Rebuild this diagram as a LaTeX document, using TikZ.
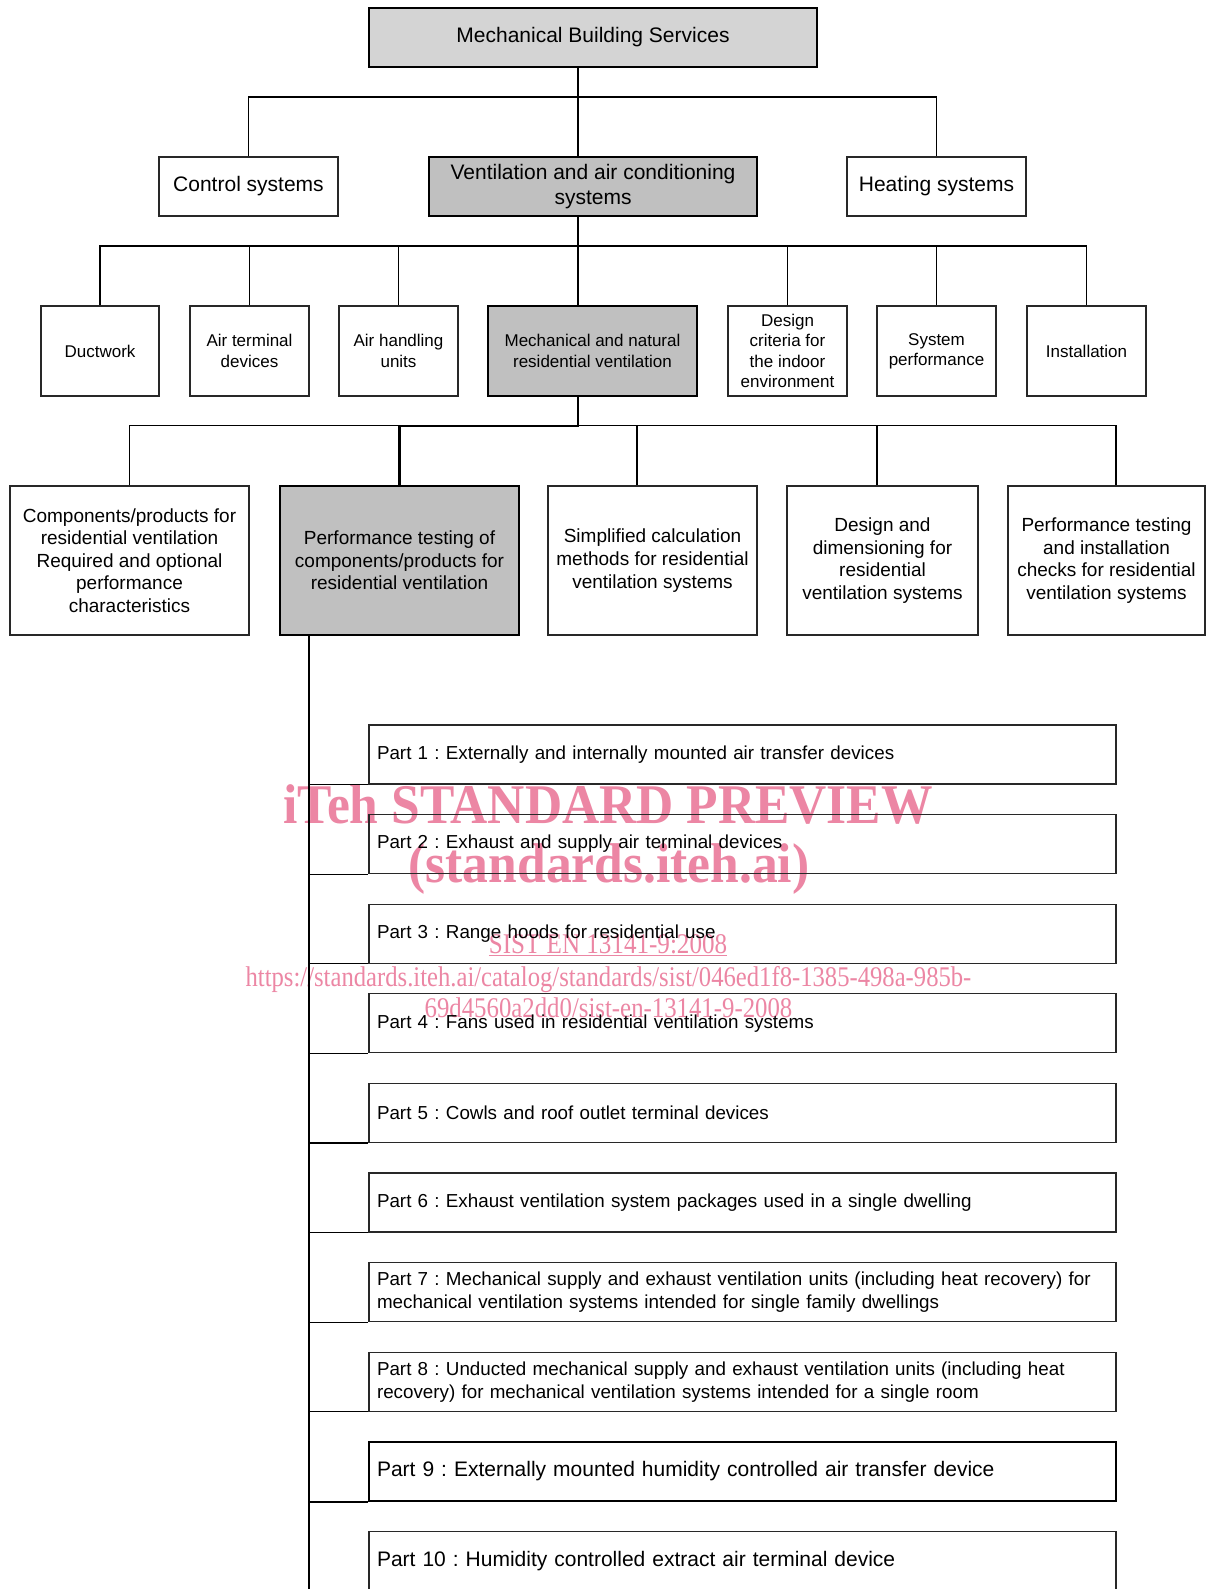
\documentclass[tikz,border=0pt]{standalone}
\usepackage{fontspec}
\setmainfont{Liberation Sans}
\newfontfamily\wmfont{Liberation Serif}
\usepackage{graphicx}
\definecolor{topgray}{RGB}{212,212,212}
\definecolor{midgray}{RGB}{192,192,192}
\definecolor{wmpink}{RGB}{236,134,164}
\definecolor{edge}{RGB}{40,40,40}
\frenchspacing
\begin{document}
\begin{tikzpicture}[x=1pt,y=-1pt,
  box/.style={draw=edge, line width=1.3pt, inner sep=0pt, align=center, anchor=center},
  hibox/.style={box, draw=black, line width=2.2pt, fill=midgray},
  fa/.style={font=\fontsize{21}{25}\selectfont},
  fb/.style={font=\fontsize{17}{20.3}\selectfont},
  fc/.style={font=\fontsize{19}{22.6}\selectfont},
  partbox/.style={draw=edge, line width=1.3pt, minimum width=747pt, minimum height=59pt,
    inner xsep=8pt, inner ysep=0pt, text width=731pt, align=left,
    font=\fontsize{18.8}{23}\selectfont},
  thinline/.style={draw=black, line width=1.2pt},
  thickline/.style={draw=black, line width=2.2pt},
  wm/.style={text=wmpink, anchor=base, inner sep=0pt}
]
\clip (0,0) rectangle (1206,1589);
\fill[white] (0,0) rectangle (1206,1589);

% watermark (underneath)
\node[wm] (w1) at (608,823) {\scalebox{0.92}[1]{\wmfont\bfseries\fontsize{56}{60}\selectfont iTeh STANDARD PREVIEW}};
\node[wm] (w2) at (609,882) {\scalebox{0.92}[1]{\wmfont\bfseries\fontsize{56}{60}\selectfont (standards.iteh.ai)}};
\node[wm] (w3) at (608,953.5) {\scalebox{0.88}[1]{\wmfont\fontsize{28.5}{32}\selectfont\underline{SIST EN 13141-9:2008}}};
\node[wm] (w4) at (608.5,986) {\scalebox{0.865}[1]{\wmfont\fontsize{28.5}{32}\selectfont https://standards.iteh.ai/catalog/standards/sist/046ed1f8-1385-498a-985b-}};
\node[wm] (w5) at (608.5,1017) {\scalebox{0.87}[1]{\wmfont\fontsize{28.5}{32}\selectfont 69d4560a2dd0/sist-en-13141-9-2008}};

% level 1
\node[hibox, fill=topgray, fa, minimum width=448pt, minimum height=59pt] (mbs) at (593,37.5) {\raisebox{-2pt}{Mechanical Building Services}};

% level 2
\node[box, fa, minimum width=179pt, minimum height=59pt] (ctrl) at (248.5,186.5) {\raisebox{-2pt}{Control systems}};
\node[hibox, fa, minimum width=328pt, minimum height=59pt] (vac) at (593,186.5) {Ventilation and air conditioning\\systems};
\node[box, fa, minimum width=179pt, minimum height=59pt] (heat) at (936.5,186.5) {\raisebox{-2pt}{Heating systems}};

% level 3
\node[box, fb, minimum width=118pt, minimum height=90pt] (duct) at (100,351) {Ductwork};
\node[box, fb, minimum width=119pt, minimum height=90pt] (atd) at (249.5,351) {Air terminal\\devices};
\node[box, fb, minimum width=119pt, minimum height=90pt] (ahu) at (398.5,351) {Air handling\\units};
\node[hibox, fb, minimum width=209pt, minimum height=90pt] (mech) at (592.5,351) {Mechanical and natural\\residential ventilation};
\node[box, fb, minimum width=119pt, minimum height=90pt] (dcrit) at (787.5,351) {Design\\criteria for\\the indoor\\environment};
\node[box, fb, minimum width=119pt, minimum height=90pt] (sysp) at (936.5,351) {System\\performance};
\node[box, fb, minimum width=119pt, minimum height=90pt] (inst) at (1086.5,351) {Installation};

% level 4
\node[box, fc, minimum width=239pt, minimum height=149pt] (comp) at (129.5,560.5) {Components/products for\\residential ventilation\\Required and optional\\performance\\characteristics};
\node[hibox, fc, minimum width=239pt, minimum height=149pt] (perf) at (399.5,560.5) {Performance testing of\\components/products for\\residential ventilation};
\node[box, fc, minimum width=209pt, minimum height=149pt] (simp) at (652.5,560.5) {Simplified calculation\\methods for residential\\ventilation systems};
\node[box, fc, minimum width=191pt, minimum height=149pt] (ddim) at (882.5,560.5) {Design and\\dimensioning for\\residential\\ventilation systems};
\node[box, fc, minimum width=197pt, minimum height=149pt] (pinst) at (1106.5,560.5) {Performance testing\\and installation\\checks for residential\\ventilation systems};

% connectors level 1-2
\coordinate (c1) at (578,97);
\draw[thickline] (mbs.south -| c1) -- (vac.north -| c1);
\draw[thinline] (ctrl.north) |- (c1) -| (heat.north);

% connectors level 2-3
\coordinate (c2) at (578,246);
\draw[thickline] (vac.south -| c2) -- (mech.north -| c2);
\draw[thinline] (duct.north) |- (inst.north |- c2) -- (inst.north);
\foreach \n in {atd,ahu,dcrit,sysp} \draw[thinline] (\n.north) -- (\n.north |- c2);

% connectors level 3-4
\coordinate (c3) at (578,425.6);
\coordinate (x3) at (637,425.6);
\coordinate (x4) at (877,425.6);
\coordinate (x5) at (1116,425.6);
\draw[thinline] (comp.north) |- (x5) -- (pinst.north -| x5);
\draw[thinline] (x3) -- (simp.north -| x3);
\draw[thinline] (x4) -- (ddim.north -| x4);
\draw[thickline] (mech.south -| c3) -- (c3) -| (perf.north);

% parts
\node[partbox] (p1) at (742.5,754.5) {Part 1 : Externally and internally mounted air transfer devices};
\node[partbox] (p2) at (742.5,844.1) {Part 2 : Exhaust and supply air terminal devices};
\node[partbox] (p3) at (742.5,933.7) {Part 3 : Range hoods for residential use};
\node[partbox] (p4) at (742.5,1023.3) {Part 4 : Fans used in residential ventilation systems};
\node[partbox] (p5) at (742.5,1112.9) {Part 5 : Cowls and roof outlet terminal devices};
\node[partbox] (p6) at (742.5,1202.5) {Part 6 : Exhaust ventilation system packages used in a single dwelling};
\node[partbox] (p7) at (742.5,1292.1) {Part 7 : Mechanical supply and exhaust ventilation units (including heat recovery) for\\mechanical ventilation systems intended for single family dwellings};
\node[partbox] (p8) at (742.5,1381.7) {Part 8 : Unducted mechanical supply and exhaust ventilation units (including heat\\recovery) for mechanical ventilation systems intended for a single room};
\node[partbox, draw=black, line width=2.2pt, font=\fontsize{21}{25}\selectfont] (p9) at (742.5,1471.3) {Part 9 : Externally mounted humidity controlled air transfer device};
\node[partbox, font=\fontsize{21}{25}\selectfont] (p10) at (742.5,1560.9) {Part 10 : Humidity controlled extract air terminal device};

% trunk
\coordinate (tr) at (309,1600);
\draw[thickline] (perf.south -| tr) -- (tr);
\foreach \n in {p1,p2,p3,p4,p5,p6,p7,p8} \draw[thinline] (\n.south west -| tr) -- (\n.south west);
\draw[thickline] (p9.south west -| tr) -- (p9.south west);
\end{tikzpicture}
\end{document}
